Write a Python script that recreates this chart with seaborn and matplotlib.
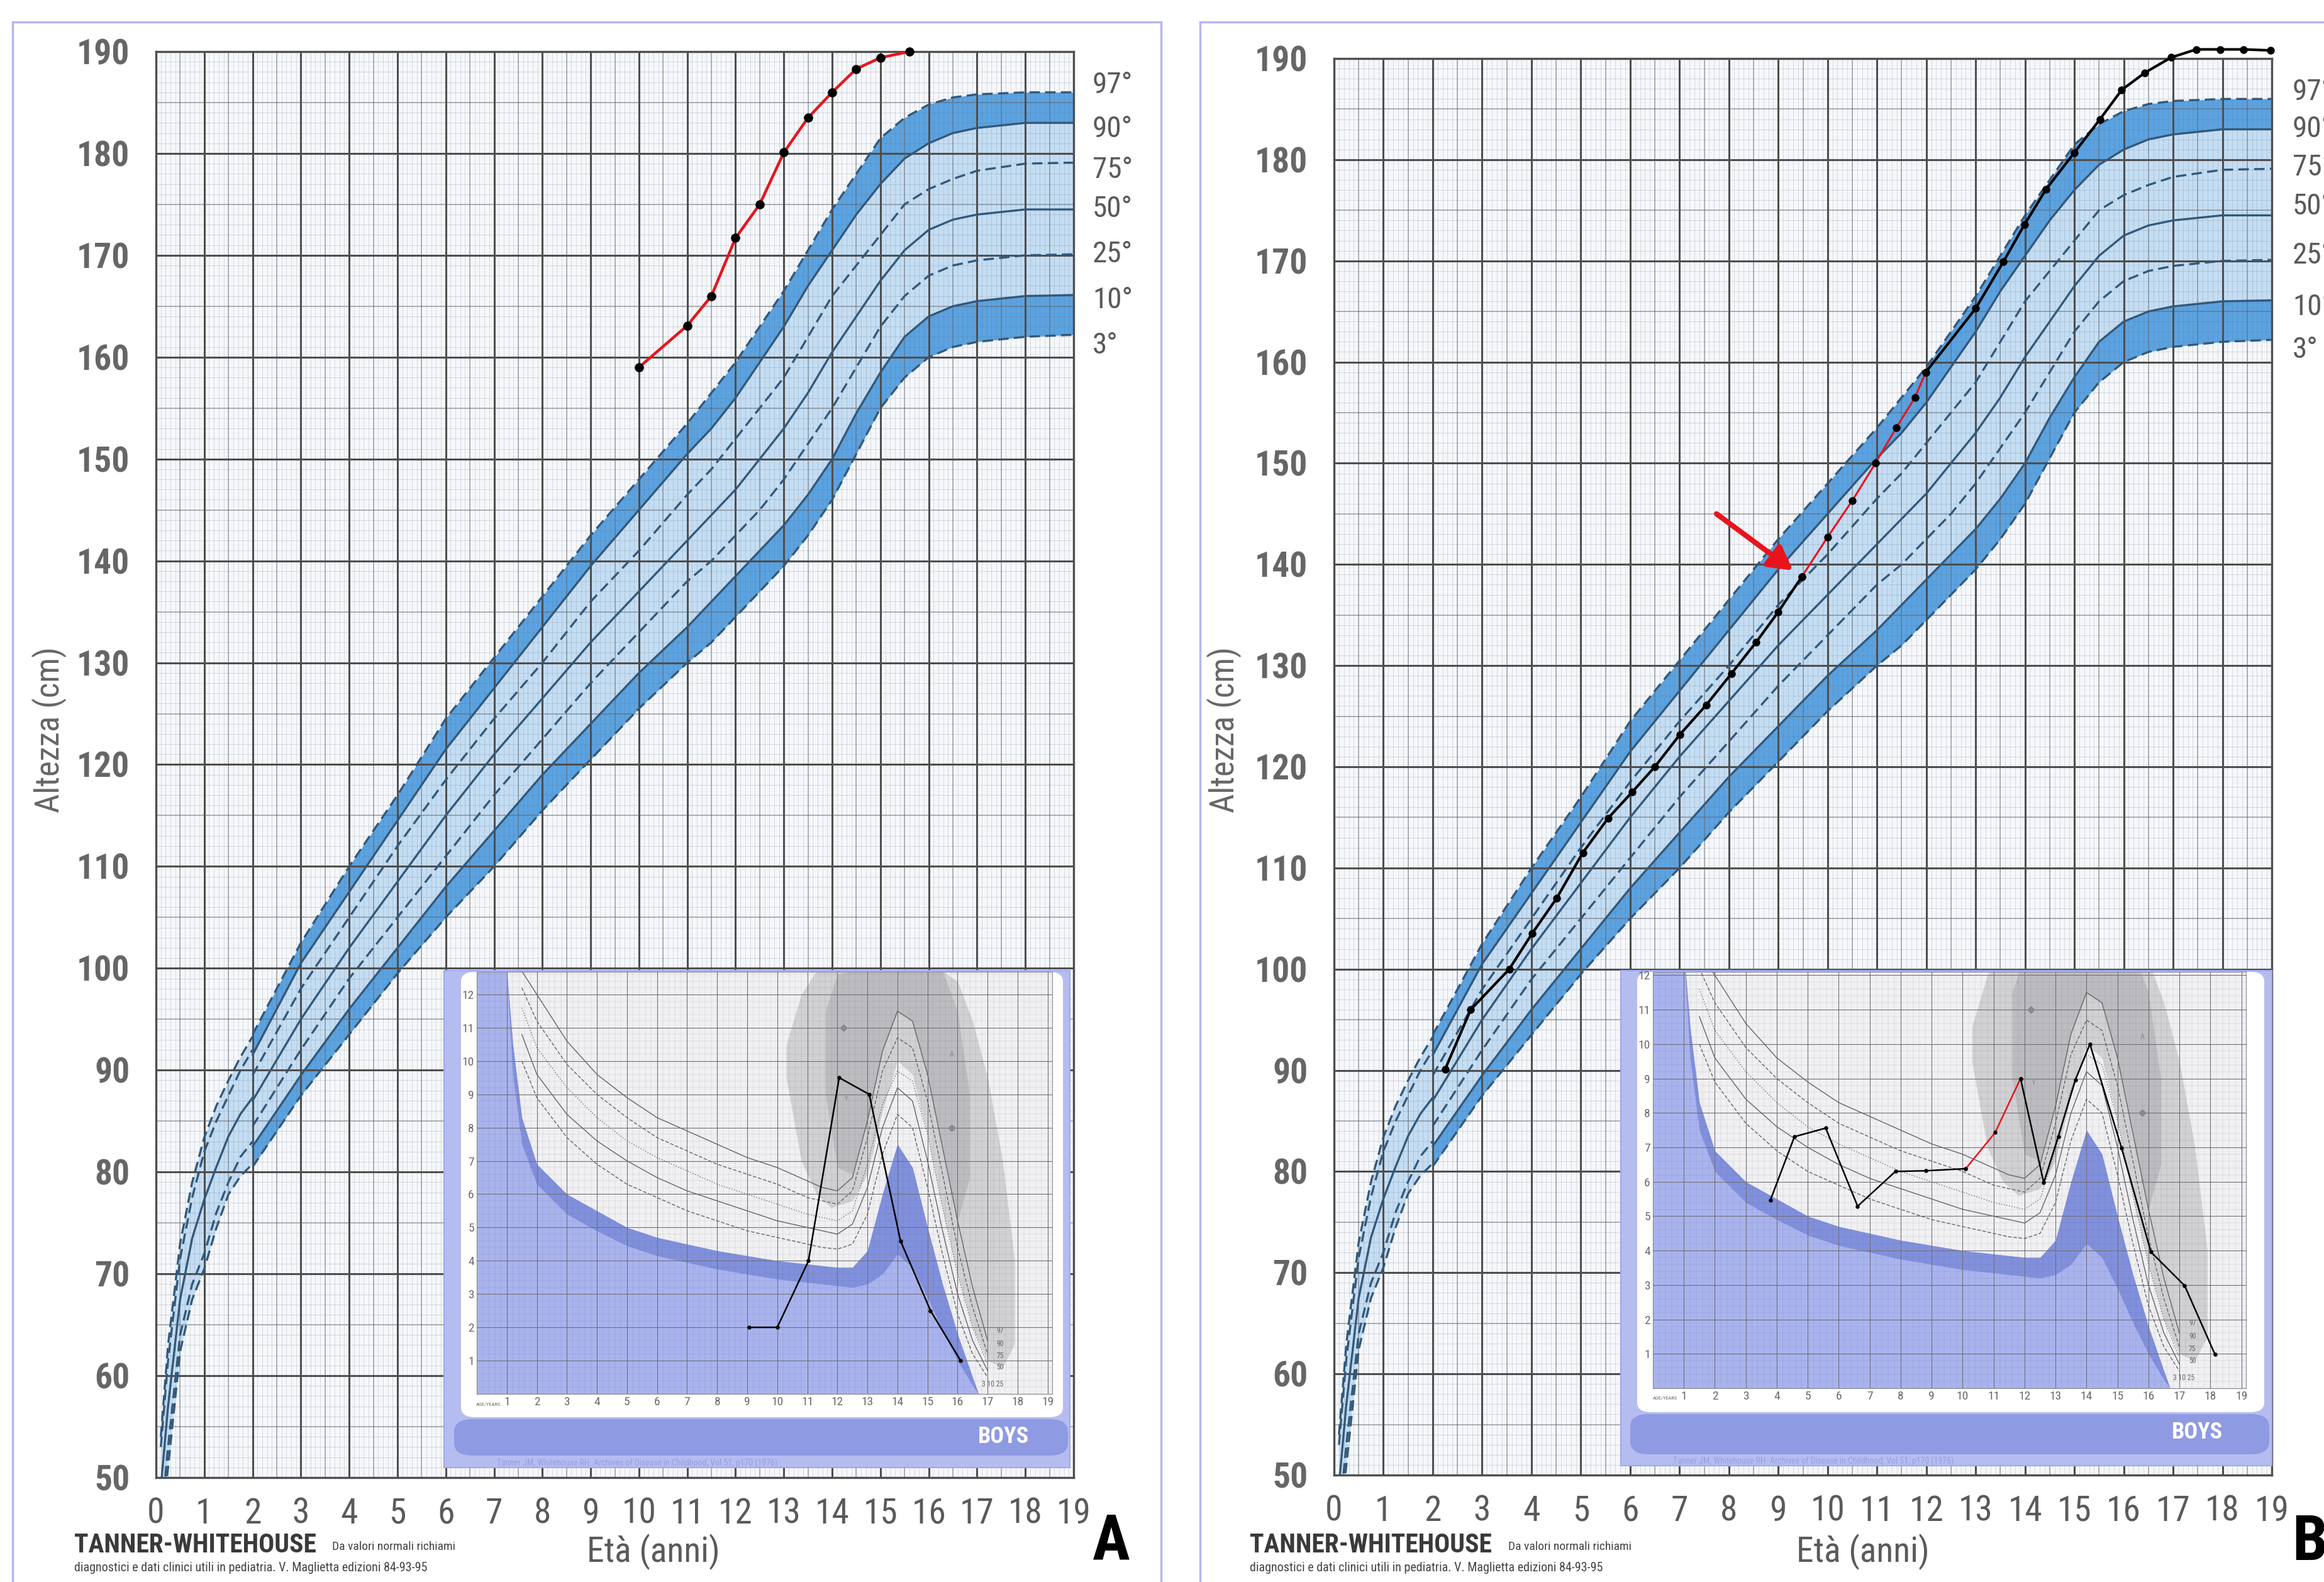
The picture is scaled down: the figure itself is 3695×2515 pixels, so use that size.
#setup
import numpy as np
import pandas as pd
import matplotlib
matplotlib.use("Agg")
import matplotlib.pyplot as plt
import seaborn as sns
from matplotlib import font_manager as fm
from matplotlib.patches import Rectangle, FancyBboxPatch
from matplotlib.ticker import MultipleLocator

W, H = 3695, 2515

#height percentiles (cm), infant part 0-2 years
age_inf = [0.1, 0.25, 0.5, 0.75, 1.0, 1.25, 1.5, 1.75, 2.0]
inf_p97 = [54, 63, 73, 79, 83.4, 86.5, 89, 91.3, 93.3]
inf_p90 = [53, 61.5, 71.5, 77.5, 82, 85, 87.5, 90, 92]
inf_p50 = [49, 57, 67.5, 73.5, 77.3, 80.5, 83.5, 85.7, 87.3]
inf_p10 = [45.5, 53, 64, 69, 72, 76, 79, 81.5, 83]
inf_p3 = [44, 51, 62.4, 67.5, 70.5, 74.5, 77.8, 79.6, 80.8]

#height percentiles 2-19 years
age_pc = [2, 3, 4, 5, 6, 7, 8, 9, 10, 11, 11.5, 12, 12.5, 13, 13.5, 14, 14.5, 15, 15.5, 16, 16.5, 17, 18, 19]
p3 = [80.5, 87.5, 93.5, 99.5, 105, 110, 115.5, 120.5, 125.5, 130, 132, 134.5, 137, 139.5, 142.5, 146, 150.5, 155, 158, 160, 161, 161.5, 162, 162.2]
p10 = [82.5, 89.5, 96, 102, 108, 113.5, 119, 124, 129, 133.5, 136, 138.5, 141, 143.5, 146.5, 150, 154.5, 158.5, 162, 164, 165, 165.5, 166, 166.1]
p25 = [84.5, 92, 99, 105, 111, 117, 122.5, 128, 133, 138, 140, 142.5, 145, 148, 151.5, 155, 159, 163, 166, 168, 169, 169.5, 170, 170.1]
p50 = [87, 95, 102, 108.5, 115, 121, 126.5, 132, 137, 142, 144.5, 147, 150, 153, 156.5, 160.5, 164, 167.5, 170.5, 172.5, 173.5, 174, 174.5, 174.5]
p75 = [89.5, 98, 105, 112, 118.5, 124.5, 130, 136, 141, 146.5, 149, 152, 155, 158, 162, 166, 169, 172, 175, 176.5, 177.5, 178.3, 179, 179.1]
p90 = [91.5, 100.5, 107.5, 114.5, 121.5, 127.5, 133.5, 139.5, 145, 150.5, 153, 156, 159.5, 163, 167, 170.5, 174, 177, 179.5, 181, 182, 182.5, 183, 183]
p97 = [93.5, 102.5, 110, 117, 124.5, 130.5, 136.5, 142.5, 148, 153.5, 156.5, 159.5, 163, 166.5, 170.5, 174.5, 178, 181.5, 183.5, 184.8, 185.5, 185.8, 186, 186]
pct_labels = ["97°", "90°", "75°", "50°", "25°", "10°", "3°"]

#patient A (height)
age_a = [10, 11, 11.5, 12, 12.5, 13, 13.5, 14, 14.5, 15, 15.6]
ht_a = [159, 163.1, 166, 171.7, 175, 180.1, 183.5, 186, 188.3, 189.4, 190]

#patient B (height): black, red, black
age_b1 = [2.25, 2.77, 3.55, 4.01, 4.51, 5.04, 5.55, 6.04, 6.5, 7.01, 7.54, 8.05, 8.55, 9.0, 9.48]
ht_b1 = [90.1, 96.0, 100.0, 103.5, 107.0, 111.5, 114.9, 117.5, 120.0, 123.2, 126.1, 129.2, 132.3, 135.3, 138.8]
age_b2 = [9.48, 10.0, 10.5, 10.97, 11.39, 11.77, 11.99]
ht_b2 = [138.8, 142.7, 146.3, 150.0, 153.5, 156.5, 159.0]
age_b3 = [11.99, 13.0, 13.56, 13.99, 14.43, 15.0, 15.52, 15.96, 16.43, 16.96, 17.47, 17.96, 18.43, 18.97]
ht_b3 = [159.0, 165.3, 169.9, 173.6, 177.1, 180.7, 184.0, 186.9, 188.6, 190.1, 190.9, 190.9, 190.9, 190.8]

#height velocity inset (cm/year)
age_v = [1.5, 2, 3, 4, 5, 6, 7, 8, 9, 10, 11, 11.5, 12, 12.5, 13, 13.5, 14, 14.5, 15, 15.5, 16, 16.5, 17]
v97 = [12.7, 12.0, 10.6, 9.6, 8.9, 8.3, 7.9, 7.5, 7.1, 6.8, 6.4, 6.2, 6.1, 6.5, 8.2, 10.3, 11.5, 11.2, 9.6, 7.4, 5.2, 3.2, 1.6]
v90 = [12.2, 11.2, 9.9, 9.0, 8.3, 7.7, 7.3, 6.9, 6.6, 6.3, 5.9, 5.8, 5.7, 6.1, 7.7, 9.7, 10.7, 10.4, 8.8, 6.6, 4.4, 2.6, 1.2]
v75 = [11.6, 10.4, 9.2, 8.3, 7.6, 7.1, 6.7, 6.3, 6.0, 5.7, 5.4, 5.3, 5.2, 5.5, 6.9, 8.7, 9.7, 9.4, 7.8, 5.6, 3.6, 2.0, 0.9]
v50 = [10.8, 9.6, 8.4, 7.6, 7.0, 6.5, 6.1, 5.8, 5.5, 5.2, 5.0, 4.9, 4.8, 5.1, 6.2, 8.0, 9.2, 8.8, 7.0, 4.9, 3.0, 1.6, 0.7]
v25 = [10.0, 8.9, 7.7, 6.9, 6.3, 5.9, 5.5, 5.2, 4.9, 4.7, 4.5, 4.4, 4.35, 4.5, 5.4, 7.2, 8.4, 8.0, 6.2, 4.2, 2.4, 1.2, 0.5]
age_blue = [0, 1.0, 1.2, 1.5, 2, 3, 4, 5, 6, 7, 8, 9, 10, 11, 12, 12.5, 13, 13.5, 14, 14.5, 15, 15.5, 16, 16.5, 16.7]
blue_hi = [12.7, 12.7, 10.5, 8.3, 6.9, 6.0, 5.5, 5.0, 4.7, 4.5, 4.3, 4.15, 4.0, 3.9, 3.8, 3.8, 4.3, 6.0, 7.5, 6.8, 5.0, 3.3, 1.8, 0.5, 0.0]
blue_lo = [12.7, 12.7, 9.6, 7.5, 6.3, 5.4, 4.9, 4.45, 4.15, 3.95, 3.75, 3.6, 3.45, 3.35, 3.25, 3.2, 3.3, 3.6, 4.2, 3.8, 2.9, 1.9, 1.0, 0.25, 0.0]
#grey zones behind the pubertal peak: wide pale one and a darker core
age_grey = [10.3, 10.8, 11.3, 11.8, 12.5, 13, 13.5, 14, 14.5, 15, 15.5, 16, 16.5, 17, 17.5, 17.9]
grey_lo = [9.5, 7.0, 6.0, 5.6, 5.8, 6.6, 8.5, 10.0, 9.6, 7.8, 5.6, 3.6, 2.0, 1.0, 0.8, 1.5]
grey_hi = [10.5, 12.0, 12.7, 12.7, 12.7, 12.7, 12.7, 12.7, 12.7, 12.7, 12.7, 12.4, 11.2, 9.5, 7.0, 4.0]
age_core = [11.6, 12, 12.5, 13, 13.5, 14, 14.5, 15, 15.5, 16, 16.4]
core_lo = [9.0, 6.8, 6.6, 8.2, 10.3, 11.5, 11.2, 9.6, 7.4, 5.2, 6.5]
core_hi = [11.5, 12.6, 12.7, 12.7, 12.7, 12.7, 12.7, 12.7, 12.7, 11.5, 9.0]

#patient velocities
vage_a = [9.06, 10.0, 11.04, 12.06, 13.06, 14.1, 15.1, 16.1]
vel_a = [2.0, 2.0, 4.0, 9.5, 9.0, 4.6, 2.5, 1.0]
vage_b1 = [3.79, 4.57, 5.58, 6.61, 7.83, 8.81, 10.1]
vel_b1 = [5.46, 7.31, 7.56, 5.29, 6.30, 6.32, 6.38]
vage_b2 = [10.1, 11.05, 11.87]
vel_b2 = [6.38, 7.43, 9.0]
vage_b3 = [11.87, 12.62, 13.09, 13.64, 14.11, 15.13, 16.08, 17.17, 18.15]
vel_b3 = [9.0, 5.97, 7.32, 8.96, 10.0, 6.99, 3.96, 2.98, 0.98]

#fonts: a narrow face if one is installed
avail = {f.name for f in fm.fontManager.ttflist}
NARROW = "DejaVu Sans"
for cand in ["Liberation Sans Narrow", "Roboto Condensed", "Open Sans Condensed", "Noto Sans Condensed"]:
    if cand in avail:
        NARROW = cand
        break
K = 1.0 if NARROW != "DejaVu Sans" else 0.78

sns.set_style("white")
plt.rcParams["font.family"] = [NARROW, "DejaVu Sans"]

DARK = "#5ba2e0"
LIGHT = "#c4ddf3"
PCOL = "#33587a"
DASH = (0, (5, 2.5))
GREYTXT = "#5a5a5a"


def fbox(l, t, r, b):
    return [l / W, 1 - b / H, (r - l) / W, (b - t) / H]


def height_chart(ax):
    ax.set_facecolor("#f5f7fa")
    ax.set_xlim(0, 19)
    ax.set_ylim(50, 190)
    ax.fill_between(age_inf, inf_p3, inf_p97, color=LIGHT, lw=0, zorder=1)
    ax.fill_between(age_pc, p10, p90, color=LIGHT, lw=0, zorder=1)
    ax.fill_between(age_pc, p3, p10, color=DARK, lw=0, zorder=1)
    ax.fill_between(age_pc, p90, p97, color=DARK, lw=0, zorder=1)
    inf_lines = [(inf_p97, DASH), (inf_p90, DASH), (inf_p50, "-"), (inf_p10, DASH), (inf_p3, DASH)]
    for vals, ls in inf_lines:
        sns.lineplot(x=age_inf, y=vals, ax=ax, color=PCOL, linewidth=2.4, linestyle=ls, zorder=3)
    child_lines = [(p97, DASH), (p90, "-"), (p75, DASH), (p50, "-"), (p25, DASH), (p10, "-"), (p3, DASH)]
    for vals, ls in child_lines:
        sns.lineplot(x=age_pc, y=vals, ax=ax, color=PCOL, linewidth=2.4, linestyle=ls, zorder=3)
    #grid: fine, medium, heavy
    ax.xaxis.set_major_locator(MultipleLocator(1))
    ax.yaxis.set_major_locator(MultipleLocator(10))
    ax.xaxis.set_minor_locator(MultipleLocator(0.1))
    ax.yaxis.set_minor_locator(MultipleLocator(1))
    ax.grid(which="minor", color="#5a6878", alpha=0.2, linewidth=0.7)
    ax.grid(which="major", color="#4e4e4e", linewidth=2.2)
    ax.set_axisbelow(False)
    for x in np.arange(0.5, 19, 1):
        ax.axvline(x, color="#606468", alpha=0.55, linewidth=1.1, zorder=2.4)
    for y in np.arange(55, 190, 10):
        ax.axhline(y, color="#606468", alpha=0.55, linewidth=1.1, zorder=2.4)
    ax.tick_params(axis="y", which="major", length=22, width=2, color="#555555",
                   labelsize=40 * K, labelcolor="#666666", pad=8)
    ax.tick_params(axis="x", which="major", length=0, labelsize=40 * K, labelcolor=GREYTXT, pad=22)
    ax.tick_params(which="minor", length=0)
    for lbl in ax.get_yticklabels():
        lbl.set_fontweight("bold")
    for s in ax.spines.values():
        s.set_color("#4e4e4e")
        s.set_linewidth(2.4)
    ax.set_xlabel("")
    ax.set_ylabel("")


def velocity_chart(ax, ymax, black_parts, red_parts):
    ax.set_facecolor("#f0f0f3")
    ax.set_xlim(0, 19.15)
    ax.set_ylim(0, ymax)
    ax.fill_between(age_grey, grey_lo, grey_hi, color="#c4c4c8", alpha=0.7, lw=0, zorder=1)
    ax.fill_between(age_core, core_lo, core_hi, color="#a9a9ae", alpha=0.5, lw=0, zorder=1.1)
    ax.fill_between(age_blue, 0, blue_hi, color="#a9b3ee", lw=0, zorder=1.2)
    ax.fill_between(age_blue, blue_lo, blue_hi, color="#8190dc", lw=0, zorder=1.3)
    ax.set_xticks(range(1, 20))
    ax.set_yticks(range(1, int(ymax) + 1))
    ax.xaxis.set_minor_locator(MultipleLocator(0.2))
    ax.yaxis.set_minor_locator(MultipleLocator(0.2))
    ax.grid(which="minor", color="#50505a", alpha=0.22, linewidth=0.35)
    ax.grid(which="major", color="#707076", linewidth=0.8)
    ax.set_axisbelow(False)
    vel_lines = [(v97, "-"), (v90, (0, (4, 2))), (v75, (0, (1, 2))), (v50, "-"), (v25, (0, (4, 2)))]
    for vals, ls in vel_lines:
        sns.lineplot(x=age_v, y=vals, ax=ax, color="#656569", linewidth=1.0, linestyle=ls, zorder=3)
    for txt, x, y in [("97", 17.3, 1.9), ("90", 17.3, 1.5), ("75", 17.3, 1.15), ("50", 17.3, 0.8)]:
        ax.text(x, y, txt, fontsize=8.5 * K, color="#666666", va="center", zorder=4)
    ax.text(16.8, 0.3, "3 10 25", fontsize=8.5 * K, color="#666666", va="center", zorder=4)
    ax.scatter([12.2, 15.8], [11.0, 8.0], marker="D", s=30, color="#8a8a8e", zorder=4)
    for txt, x, y in [("v", 12.3, 8.9), ("v", 15.8, 6.0), ("Λ", 15.8, 10.2)]:
        ax.text(x, y, txt, fontsize=9, color="#8a8a8e", ha="center", va="center", zorder=4)
    for xs, ys in black_parts:
        sns.lineplot(x=xs, y=ys, ax=ax, color="black", linewidth=1.8, zorder=5)
        sns.scatterplot(x=xs, y=ys, ax=ax, color="black", s=22, linewidth=0, zorder=6)
    for xs, ys in red_parts:
        sns.lineplot(x=xs, y=ys, ax=ax, color="#e8141c", linewidth=1.8, zorder=5)
        sns.scatterplot(x=xs, y=ys, ax=ax, color="black", s=22, linewidth=0, zorder=6)
    ax.tick_params(which="both", length=0)
    ax.tick_params(labelsize=14 * K, labelcolor="#6a6a6a", pad=3)
    ax.text(0.8, -0.024, "AGE/YEARS", transform=ax.get_xaxis_transform(), fontsize=6,
            color="#6a6a6a", ha="right", va="center")
    for s in ax.spines.values():
        s.set_color("#8a8a90")
        s.set_linewidth(0.8)
    ax.set_xlabel("")
    ax.set_ylabel("")


def inset_frame(fig, outer, white, band, boys_xy, cite_xy):
    l, t, r, b = outer
    fig.add_artist(Rectangle((l / W, 1 - b / H), (r - l) / W, (b - t) / H, transform=fig.transFigure,
                             facecolor="#b5bdf0", edgecolor="#9ea8ec", linewidth=1.5, zorder=2))
    l, t, r, b = white
    fig.add_artist(FancyBboxPatch((l / W, 1 - b / H), (r - l) / W, (b - t) / H,
                                  boxstyle="round,pad=0,rounding_size=0.006", transform=fig.transFigure,
                                  facecolor="white", edgecolor="none", zorder=2.1))
    l, t, r, b = band
    fig.add_artist(FancyBboxPatch((l / W, 1 - b / H), (r - l) / W, (b - t) / H,
                                  boxstyle="round,pad=0,rounding_size=0.008", transform=fig.transFigure,
                                  facecolor="#8e9ae2", edgecolor="none", zorder=2.1))
    fig.text(boys_xy[0] / W, 1 - boys_xy[1] / H, "BOYS", color="white", fontsize=26 * K,
             fontweight="bold", ha="center", va="center", zorder=2.2)
    fig.text(cite_xy[0] / W, 1 - cite_xy[1] / H,
             "Tanner JM, Whitehouse RH. Archives of Disease in Childhood, Vol 51, p170 (1976)",
             color="#98a0e0", fontsize=10 * K, ha="left", va="center", zorder=2.2)


fig = plt.figure(figsize=(W / 100, H / 100), dpi=100)

#panel A
axA = fig.add_axes(fbox(248, 82, 1707, 2349))
height_chart(axA)
sns.lineplot(x=age_a, y=ht_a, ax=axA, color="#e8141c", linewidth=3.2, zorder=5)
sns.scatterplot(x=age_a, y=ht_a, ax=axA, color="black", s=110, linewidth=0, zorder=6, clip_on=False)

#panel B
axB = fig.add_axes(fbox(2121, 93, 3612, 2345))
height_chart(axB)
sns.lineplot(x=age_b1, y=ht_b1, ax=axB, color="black", linewidth=3.0, zorder=5)
sns.lineplot(x=age_b2, y=ht_b2, ax=axB, color="#e8141c", linewidth=2.2, zorder=5)
sns.lineplot(x=age_b3, y=ht_b3, ax=axB, color="black", linewidth=3.0, zorder=5, clip_on=False)
for xs, ys in [(age_b1, ht_b1), (age_b2, ht_b2), (age_b3, ht_b3)]:
    sns.scatterplot(x=xs, y=ys, ax=axB, color="black", s=80, linewidth=0, zorder=6, clip_on=False)
axB.annotate("", xy=(9.3, 139.4), xytext=(7.75, 145.0), zorder=7,
             arrowprops=dict(arrowstyle="-|>,head_length=0.9,head_width=0.5", color="#e8141c",
                             lw=6, mutation_scale=25, shrinkA=0, shrinkB=0))

#panel frames
fig.add_artist(Rectangle((20 / W, 1 - 2530 / H), (1846 - 20) / W, (2530 - 35) / H, transform=fig.transFigure,
                         fill=False, edgecolor="#b6b6f2", linewidth=2.5, zorder=1))
fig.add_artist(Rectangle((1908 / W, 1 - 2530 / H), (3720 - 1908) / W, (2530 - 35) / H, transform=fig.transFigure,
                         fill=False, edgecolor="#b6b6f2", linewidth=2.5, zorder=1))

#insets
inset_frame(fig, (706, 1543, 1701, 2333), (733, 1545, 1690, 2253), (722, 2256, 1698, 2314),
            (1595, 2284), (790, 2326))
inset_frame(fig, (2577, 1543, 3612, 2330), (2603, 1545, 3600, 2245), (2592, 2248, 3608, 2312),
            (3493, 2277), (2660, 2323))
insA = fig.add_axes(fbox(758, 1545, 1673, 2216))
insA.set_zorder(5)
velocity_chart(insA, 12.68, [(vage_a, vel_a)], [])
insB = fig.add_axes(fbox(2628, 1545, 3571, 2207))
insB.set_zorder(5)
velocity_chart(insB, 12.1, [(vage_b1, vel_b1), (vage_b3, vel_b3)], [(vage_b2, vel_b2)])

#percentile labels on the right (panel B ones run off the page edge as in the scan)
labA_y = [135, 205, 270, 332, 404, 477, 549]
labB_y = [146, 205, 266, 328, 406, 488, 556]
for txt, ya, yb in zip(pct_labels, labA_y, labB_y):
    fig.text(1737 / W, 1 - ya / H, txt, fontsize=34 * K, color=GREYTXT, va="center", ha="left")
    fig.text(3645 / W, 1 - yb / H, txt, fontsize=34 * K, color=GREYTXT, va="center", ha="left")

#axis titles and footers
for x_alt, x_eta, x_tw, x_da in [(78, 1039, 118, 528), (1946, 2962, 1987, 2398)]:
    fig.text(x_alt / W, 1 - 1160 / H, "Altezza (cm)", rotation=90, fontsize=38 * K, color="#666666",
             ha="center", va="center")
    fig.text(x_eta / W, 1 - 2467 / H, "Età (anni)", fontsize=40 * K, color=GREYTXT, ha="center", va="center")
    fig.text(x_tw / W, 1 - 2457 / H, "TANNER-WHITEHOUSE", fontsize=30 * K, fontweight="bold",
             color="#3a3a3a", ha="left", va="center")
    fig.text(x_da / W, 1 - 2459 / H, "Da valori normali richiami", fontsize=14 * K, color="#444444",
             ha="left", va="center")
    fig.text(x_tw / W, 1 - 2492 / H,
             "diagnostici e dati clinici utili in pediatria. V. Maglietta edizioni 84-93-95",
             fontsize=14.5 * K, color="#444444", ha="left", va="center")
fig.text(1767 / W, 1 - 2452 / H, "A", fontsize=72, fontweight="bold", color="black", ha="center", va="center")
fig.text(3644 / W, 1 - 2452 / H, "B", fontsize=72, fontweight="bold", color="black", ha="left", va="center")

fig.savefig("out.png", dpi=100, facecolor="white")
